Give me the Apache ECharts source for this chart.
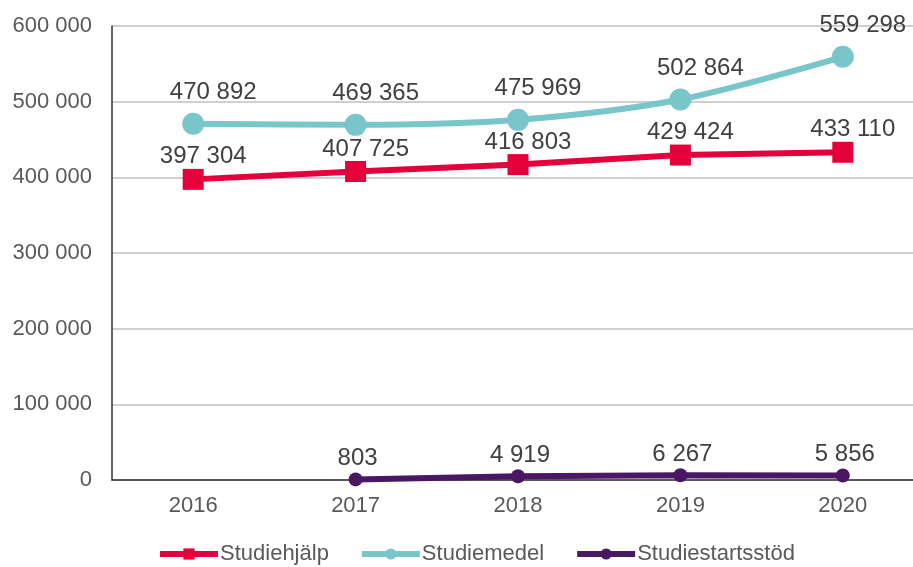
<!DOCTYPE html>
<html>
<head>
<meta charset="utf-8">
<script src="https://cdn.jsdelivr.net/npm/echarts@6/dist/echarts.min.js"></script>
<style>
  html, body { margin: 0; padding: 0; background: #fff; overflow: hidden; }
  #chart { width: 924px; height: 567px; }
</style>
</head>
<body>
<div id="chart"></div>
<script>
var years = ['2016', '2017', '2018', '2019', '2020'];
var studiehjalp = [397304, 407725, 416803, 429424, 433110];
var studiemedel = [470892, 469365, 475969, 502864, 559298];
var studiestartsstod = [null, 803, 4919, 6267, 5856];

function fmt(v) {
    return String(v).replace(/\B(?=(\d{3})+(?!\d))/g, ' ');
}

// etikett ovanför punkten, något förskjuten åt höger som i originalet
function makeLabel(distance, dx) {
    return {
        show: true,
        position: 'top',
        distance: distance,
        offset: [dx, 0],
        color: '#404040',
        fontSize: 24,
        fontFamily: 'Liberation Sans, Arial, sans-serif',
        formatter: function (p) { return fmt(p.value); }
    };
}

var myChart = echarts.init(document.getElementById('chart'));

var option = {
    animation: false,
    grid: {
        left: 112,
        top: 26,
        right: 0,
        bottom: 87
    },
    legend: {
        top: 538,
        left: 152,
        itemWidth: 58,
        itemHeight: 14,
        itemGap: 30,
        lineStyle: { width: 6 },
        textStyle: {
            color: '#595959',
            fontSize: 22,
            fontFamily: 'Liberation Sans, Arial, sans-serif',
            padding: [0, 0, 0, -3]
        },
        data: ['Studiehjälp', 'Studiemedel', 'Studiestartsstöd']
    },
    xAxis: {
        type: 'category',
        data: years,
        boundaryGap: true,
        axisTick: { show: false },
        axisLine: { lineStyle: { color: '#333', width: 1.5 } },
        axisLabel: {
            color: '#595959',
            fontSize: 22,
            margin: 15,
            fontFamily: 'Liberation Sans, Arial, sans-serif'
        }
    },
    yAxis: {
        type: 'value',
        min: 0,
        max: 600000,
        interval: 100000,
        axisLine: { show: true, lineStyle: { color: '#333', width: 1.5 } },
        axisTick: { show: false },
        splitLine: { lineStyle: { color: '#bfbfbf', width: 1.5 } },
        axisLabel: {
            color: '#595959',
            fontSize: 22,
            margin: 20,
            fontFamily: 'Liberation Sans, Arial, sans-serif',
            formatter: function (v) { return fmt(v); }
        }
    },
    series: [
        {
            name: 'Studiehjälp',
            type: 'line',
            data: studiehjalp,
            symbol: 'rect',
            symbolSize: 21,
            lineStyle: { color: '#e4003a', width: 6 },
            itemStyle: { color: '#e4003a' },
            label: makeLabel(0, 10)
        },
        {
            name: 'Studiemedel',
            type: 'line',
            data: studiemedel,
            symbol: 'circle',
            symbolSize: 22,
            smooth: 0.3,
            lineStyle: { color: '#78c6c9', width: 6 },
            itemStyle: { color: '#78c6c9' },
            label: makeLabel(8, 20)
        },
        {
            name: 'Studiestartsstöd',
            type: 'line',
            data: studiestartsstod,
            symbol: 'circle',
            symbolSize: 14,
            lineStyle: { color: '#4a1764', width: 6 },
            itemStyle: { color: '#4a1764' },
            label: makeLabel(2, 2)
        }
    ]
};

myChart.setOption(option);
window.addEventListener('resize', function () {
    myChart.resize();
});
</script>
</body>
</html>
